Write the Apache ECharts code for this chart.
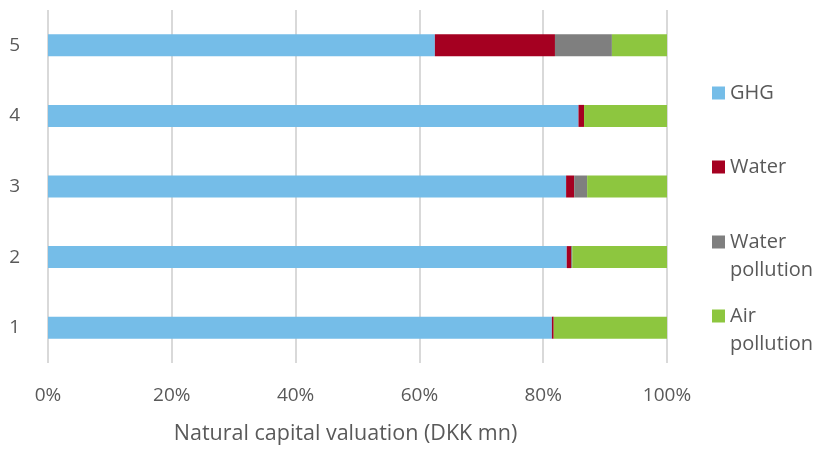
<!DOCTYPE html>
<html>
<head>
<meta charset="utf-8">
<script src="https://cdn.jsdelivr.net/npm/echarts@6/dist/echarts.min.js"></script>
<style>
  html, body { margin: 0; padding: 0; background: #fff; }
  #chart { width: 820px; height: 450px; }
</style>
</head>
<body>
<div id="chart"></div>
<script>
// categories (bottom to top) and shares in %
const categories = ['1', '2', '3', '4', '5']
const ghg = [81.4, 83.8, 83.7, 85.7, 62.5]
const water = [0.3, 0.7, 1.3, 0.9, 19.4]
const waterPollution = [0, 0.2, 2.1, 0, 9.2]
const airPollution = [18.3, 15.3, 12.9, 13.4, 8.9]
const xTicks = [0, 20, 40, 60, 80, 100]

const FONT = '"Open Sans", sans-serif'
const TEXT = '#595959'

const chart = echarts.init(document.getElementById('chart'))

const makeSeries = (name, data, color) => ({
  name,
  type: 'bar',
  stack: 'Total',
  barWidth: 22,
  itemStyle: { color },
  emphasis: { disabled: true },
  data
})

// one legend per entry; two-line labels get a blank line on top so the
// icon sits next to the first line, like the original
const makeLegend = (name, top, twoLines) => ({
  orient: 'vertical',
  left: 707,
  top,
  data: [name],
  itemWidth: 13,
  itemHeight: 13,
  icon: 'rect',
  selectedMode: false,
  formatter: (n) => (twoLines ? ' \n' + n.replace(' ', '\n') : n),
  textStyle: {
    fontFamily: FONT,
    fontSize: 20,
    color: TEXT,
    lineHeight: 28
  }
})

chart.setOption({
  animation: false,
  legend: [
    makeLegend('GHG', 74, false),
    makeLegend('Water', 148, false),
    makeLegend('Water pollution', 195, true),
    makeLegend('Air pollution', 269, true)
  ],
  grid: { left: 48, right: 153, top: 10, bottom: 87 },
  xAxis: {
    type: 'value',
    min: xTicks[0],
    max: xTicks[xTicks.length - 1],
    interval: 20,
    name: 'Natural capital valuation (DKK mn)',
    nameLocation: 'middle',
    nameGap: 60,
    nameTextStyle: {
      fontFamily: FONT,
      fontSize: 21.5,
      color: TEXT,
      padding: [0, 24, 0, 0]
    },
    axisLine: { show: false },
    axisTick: { show: false },
    axisLabel: {
      margin: 23,
      fontFamily: FONT,
      fontSize: 19,
      color: TEXT,
      formatter: '{value}%'
    },
    splitLine: { lineStyle: { color: '#d9d9d9', width: 2 } }
  },
  yAxis: {
    type: 'category',
    data: categories,
    axisLine: { show: false },
    axisTick: { show: false },
    axisLabel: {
      margin: 28,
      fontFamily: FONT,
      fontSize: 19,
      color: TEXT
    }
  },
  series: [
    makeSeries('GHG', ghg, '#75bde8'),
    makeSeries('Water', water, '#a50021'),
    makeSeries('Water pollution', waterPollution, '#7f7f7f'),
    makeSeries('Air pollution', airPollution, '#8dc63f')
  ]
})
</script>
</body>
</html>
